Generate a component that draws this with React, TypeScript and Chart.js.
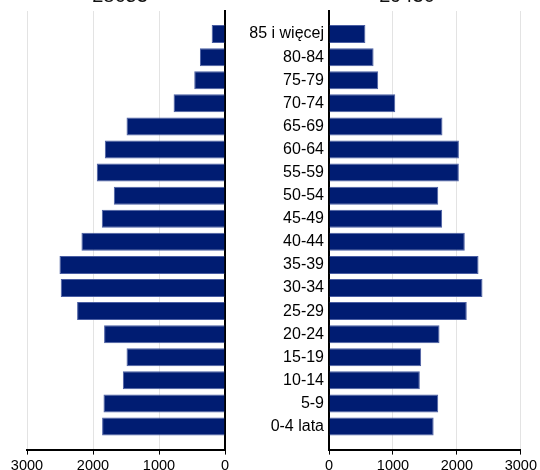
import React, { useEffect, useRef } from "react";
import { Chart, registerables } from "chart.js";

Chart.register(...registerables);

const ageGroups = [
  "85 i więcej", "80-84", "75-79", "70-74", "65-69", "60-64", "55-59", "50-54", "45-49",
  "40-44", "35-39", "30-34", "25-29", "20-24", "15-19", "10-14", "5-9", "0-4 lata",
];
const maleValues = [
  202, 380, 466, 779, 1492, 1821, 1943, 1685, 1867,
  2175, 2508, 2489, 2241, 1832, 1492, 1548, 1841, 1862,
];
const femaleValues = [
  569, 697, 769, 1036, 1774, 2031, 2030, 1708, 1769,
  2123, 2338, 2400, 2154, 1728, 1441, 1420, 1708, 1636,
];
const axisMin = 0;
const axisMax = 3000;
const axisStep = 1000;
const panelTitles = ["28653", "29430"];

const FONT = "'Liberation Sans', Arial, sans-serif";
const BAR_COLOR = "#001c72";
const BAR_BORDER = "#4a5ea3";
const CANVAS_H = 478;

function buildConfig(values: number[], side: "left" | "right"): any {
  const labels = ["", ...ageGroups, ""];
  const data = [null, ...values, null];
  const isLeft = side === "left";
  return {
    type: "bar",
    data: {
      labels,
      datasets: [
        {
          data,
          backgroundColor: BAR_COLOR,
          borderColor: BAR_BORDER,
          borderWidth: 1,
          barPercentage: 0.78,
          categoryPercentage: 1,
        },
      ],
    },
    options: {
      indexAxis: "y",
      animation: false,
      responsive: false,
      maintainAspectRatio: false,
      layout: {
        padding: isLeft
          ? { left: 27, right: 15, top: 11, bottom: 0 }
          : { left: 0, right: 16, top: 11, bottom: 0 },
      },
      plugins: {
        legend: { display: false },
        tooltip: { enabled: false },
        title: { display: false },
      },
      scales: {
        x: {
          type: "linear",
          min: axisMin,
          max: axisMax,
          reverse: isLeft,
          ticks: {
            stepSize: axisStep,
            callback: (v: any) => String(v),
            font: { size: 14.5, family: FONT },
            color: "#000",
            padding: 3,
            maxRotation: 0,
          },
          grid: { color: "#e3e3e3", tickColor: "#000", tickLength: 5, lineWidth: 1 },
          border: { color: "#000", width: 2 },
        },
        y: {
          position: isLeft ? "right" : "left",
          offset: false,
          ticks: isLeft
            ? { display: false }
            : {
                autoSkip: false,
                font: { size: 16, family: FONT },
                color: "#000",
                padding: 5,
              },
          grid: { display: false, drawTicks: false },
          border: { color: "#000", width: 2 },
          afterFit: (s: any) => {
            s.width = isLeft ? 0 : 89;
            s.paddingTop = 0;
            s.paddingBottom = 0;
          },
        },
      },
    },
  };
}

export default function App() {
  const leftRef = useRef<HTMLCanvasElement>(null);
  const rightRef = useRef<HTMLCanvasElement>(null);

  useEffect(() => {
    const left = new Chart(leftRef.current as HTMLCanvasElement, buildConfig(maleValues, "left"));
    const right = new Chart(rightRef.current as HTMLCanvasElement, buildConfig(femaleValues, "right"));
    return () => {
      left.destroy();
      right.destroy();
    };
  }, []);

  const titleStyle: React.CSSProperties = {
    position: "absolute",
    top: -15,
    width: 120,
    textAlign: "center",
    fontFamily: FONT,
    fontSize: 20,
    lineHeight: "20px",
    color: "#111",
  };

  return (
    <div
      style={{
        position: "absolute",
        left: 0,
        top: 0,
        width: 540,
        height: 470,
        overflow: "hidden",
        background: "#fff",
      }}
    >
      <canvas
        ref={leftRef}
        width={240}
        height={CANVAS_H}
        style={{ position: "absolute", left: 0, top: 0, width: 240, height: CANVAS_H }}
      />
      <canvas
        ref={rightRef}
        width={300}
        height={CANVAS_H}
        style={{ position: "absolute", left: 240, top: 0, width: 300, height: CANVAS_H }}
      />
      <div style={{ ...titleStyle, left: 60 }}>{panelTitles[0]}</div>
      <div style={{ ...titleStyle, left: 347 }}>{panelTitles[1]}</div>
    </div>
  );
}
